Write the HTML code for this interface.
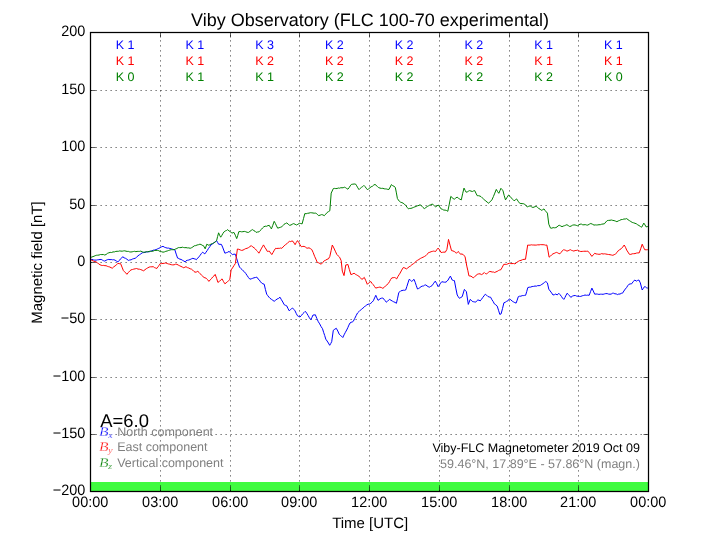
<!DOCTYPE html>
<html lang="en"><head><meta charset="utf-8"><title>Viby Observatory (FLC 100-70 experimental)</title>
<style>html,body{margin:0;padding:0;background:#fff;}body{width:720px;height:540px;overflow:hidden;}svg{display:block;will-change:transform;text-rendering:geometricPrecision;}text{font-family:"Liberation Sans",Arial,Helvetica,sans-serif;fill:#000;}.sr{font-family:"Liberation Serif","DejaVu Serif",serif;font-style:italic;}</style></head><body>
<svg width="720" height="540" viewBox="0 0 720 540">
<rect x="0" y="0" width="720" height="540" fill="#fff"/>
<rect x="90.5" y="482" width="558" height="9.5" fill="#40fb40"/>
<g stroke="#000" stroke-width="0.625" stroke-dasharray="1.25 3.75" fill="none">
<line x1="160.50" y1="491.5" x2="160.50" y2="32.5"/>
<line x1="230.50" y1="491.5" x2="230.50" y2="32.5"/>
<line x1="299.50" y1="491.5" x2="299.50" y2="32.5"/>
<line x1="369.50" y1="491.5" x2="369.50" y2="32.5"/>
<line x1="439.50" y1="491.5" x2="439.50" y2="32.5"/>
<line x1="509.50" y1="491.5" x2="509.50" y2="32.5"/>
<line x1="578.50" y1="491.5" x2="578.50" y2="32.5"/>
<line x1="90.5" y1="434.50" x2="648.5" y2="434.50"/>
<line x1="90.5" y1="377.50" x2="648.5" y2="377.50"/>
<line x1="90.5" y1="319.50" x2="648.5" y2="319.50"/>
<line x1="90.5" y1="262.50" x2="648.5" y2="262.50"/>
<line x1="90.5" y1="205.50" x2="648.5" y2="205.50"/>
<line x1="90.5" y1="147.50" x2="648.5" y2="147.50"/>
<line x1="90.5" y1="90.50" x2="648.5" y2="90.50"/>
</g>
<g stroke="#000" stroke-width="0.625" fill="none">
<line x1="90.50" y1="491.5" x2="90.50" y2="486.5"/>
<line x1="90.50" y1="32.5" x2="90.50" y2="37.5"/>
<line x1="160.50" y1="491.5" x2="160.50" y2="486.5"/>
<line x1="160.50" y1="32.5" x2="160.50" y2="37.5"/>
<line x1="230.50" y1="491.5" x2="230.50" y2="486.5"/>
<line x1="230.50" y1="32.5" x2="230.50" y2="37.5"/>
<line x1="299.50" y1="491.5" x2="299.50" y2="486.5"/>
<line x1="299.50" y1="32.5" x2="299.50" y2="37.5"/>
<line x1="369.50" y1="491.5" x2="369.50" y2="486.5"/>
<line x1="369.50" y1="32.5" x2="369.50" y2="37.5"/>
<line x1="439.50" y1="491.5" x2="439.50" y2="486.5"/>
<line x1="439.50" y1="32.5" x2="439.50" y2="37.5"/>
<line x1="509.50" y1="491.5" x2="509.50" y2="486.5"/>
<line x1="509.50" y1="32.5" x2="509.50" y2="37.5"/>
<line x1="578.50" y1="491.5" x2="578.50" y2="486.5"/>
<line x1="578.50" y1="32.5" x2="578.50" y2="37.5"/>
<line x1="648.50" y1="491.5" x2="648.50" y2="486.5"/>
<line x1="648.50" y1="32.5" x2="648.50" y2="37.5"/>
<line x1="90.5" y1="491.50" x2="95.5" y2="491.50"/>
<line x1="648.5" y1="491.50" x2="643.5" y2="491.50"/>
<line x1="90.5" y1="434.50" x2="95.5" y2="434.50"/>
<line x1="648.5" y1="434.50" x2="643.5" y2="434.50"/>
<line x1="90.5" y1="377.50" x2="95.5" y2="377.50"/>
<line x1="648.5" y1="377.50" x2="643.5" y2="377.50"/>
<line x1="90.5" y1="319.50" x2="95.5" y2="319.50"/>
<line x1="648.5" y1="319.50" x2="643.5" y2="319.50"/>
<line x1="90.5" y1="262.50" x2="95.5" y2="262.50"/>
<line x1="648.5" y1="262.50" x2="643.5" y2="262.50"/>
<line x1="90.5" y1="205.50" x2="95.5" y2="205.50"/>
<line x1="648.5" y1="205.50" x2="643.5" y2="205.50"/>
<line x1="90.5" y1="147.50" x2="95.5" y2="147.50"/>
<line x1="648.5" y1="147.50" x2="643.5" y2="147.50"/>
<line x1="90.5" y1="90.50" x2="95.5" y2="90.50"/>
<line x1="648.5" y1="90.50" x2="643.5" y2="90.50"/>
<line x1="90.5" y1="32.50" x2="95.5" y2="32.50"/>
<line x1="648.5" y1="32.50" x2="643.5" y2="32.50"/>
</g>
<g fill="none" stroke-width="1.0" stroke-linejoin="round" stroke-linecap="butt">
<path stroke="#0000ff" d="M90.5 259.4 L92.0 259.4 L93.4 259.9 L94.8 260.1 L96.3 260.1 L97.5 259.8 L98.8 259.7 L100.0 259.5 L101.2 259.4 L102.4 260.1 L103.5 260.7 L104.7 261.1 L106.1 260.3 L107.4 259.7 L108.8 259.4 L110.0 259.7 L111.2 259.5 L112.5 259.8 L113.7 259.7 L115.1 260.2 L116.5 261.1 L117.9 261.9 L119.1 260.7 L120.3 259.1 L121.5 258.2 L122.7 256.7 L124.1 257.8 L125.5 258.3 L126.9 259.2 L128.3 260.4 L129.7 260.0 L131.1 259.8 L132.4 259.1 L133.8 258.6 L135.2 258.3 L136.6 257.2 L138.0 255.8 L139.4 254.8 L140.8 253.9 L142.2 252.8 L143.6 252.6 L145.0 252.3 L146.3 252.0 L147.7 251.8 L149.1 251.8 L150.5 251.3 L151.9 250.8 L153.3 250.2 L154.7 250.0 L156.1 249.6 L157.4 248.9 L158.8 248.3 L160.2 247.7 L161.6 246.8 L163.0 246.3 L164.4 247.2 L165.8 247.7 L167.2 248.1 L168.6 248.1 L169.9 248.5 L171.3 248.8 L172.5 249.2 L173.6 249.5 L174.8 249.7 L176.2 254.1 L177.6 258.1 L178.8 258.5 L179.9 259.2 L181.1 259.4 L182.5 260.3 L183.8 261.0 L185.2 261.9 L186.0 260.8 L187.4 260.3 L188.8 260.0 L190.1 259.5 L191.5 258.8 L192.9 258.3 L194.1 258.8 L195.2 259.0 L196.4 259.7 L197.7 258.1 L198.9 256.9 L200.2 255.2 L201.4 253.5 L202.7 252.2 L203.8 253.1 L204.8 253.9 L206.0 252.2 L207.3 250.4 L208.5 248.4 L209.8 246.7 L211.0 244.9 L212.4 243.9 L213.8 243.0 L215.2 241.8 L216.6 240.7 L217.6 242.4 L218.6 244.2 L220.0 244.3 L221.4 244.4 L222.6 247.1 L223.7 250.0 L224.9 253.2 L226.3 252.7 L227.6 252.3 L229.0 251.4 L230.2 252.5 L231.3 253.5 L232.5 254.6 L233.9 254.2 L235.3 254.2 L236.7 258.5 L238.1 263.1 L239.5 267.1 L240.7 268.4 L241.9 269.4 L243.1 270.8 L244.3 271.7 L245.7 273.4 L247.1 275.5 L248.5 277.6 L249.9 279.2 L251.3 278.8 L252.7 278.3 L254.0 277.8 L255.4 277.5 L256.8 277.1 L258.0 278.9 L259.2 279.8 L260.5 281.8 L261.7 283.1 L262.9 283.8 L264.2 284.2 L265.4 289.4 L266.7 294.2 L267.8 295.7 L268.9 297.1 L270.0 298.3 L271.4 299.3 L272.8 300.3 L274.2 301.3 L275.6 300.2 L277.1 299.0 L278.6 298.4 L280.0 297.2 L281.4 299.7 L282.8 302.0 L284.2 304.7 L285.4 305.3 L286.7 305.8 L287.9 308.3 L289.2 310.8 L290.3 309.8 L291.4 308.8 L292.5 308.0 L293.8 309.4 L295.0 310.8 L296.2 313.4 L297.5 315.8 L298.8 316.5 L300.0 317.0 L301.3 315.6 L302.6 313.9 L304.0 312.6 L305.3 311.3 L306.7 313.2 L308.1 315.5 L309.4 317.8 L310.8 319.7 L311.9 317.5 L313.0 315.0 L314.1 315.0 L315.3 314.7 L316.8 318.4 L318.3 321.7 L319.7 323.9 L321.1 326.6 L322.5 328.7 L323.6 332.3 L324.7 335.5 L325.8 339.2 L327.1 341.0 L328.4 343.0 L329.7 345.3 L330.7 343.6 L331.7 341.7 L333.3 330.3 L334.8 329.2 L336.3 328.3 L337.8 331.0 L339.2 334.2 L340.4 335.4 L341.6 336.3 L342.8 337.5 L344.1 334.8 L345.4 332.3 L346.7 330.0 L347.8 327.7 L348.9 325.1 L350.0 323.0 L351.1 322.3 L352.2 322.0 L353.3 321.3 L354.7 318.5 L356.1 315.7 L357.5 313.0 L358.9 311.7 L360.3 310.2 L361.7 309.2 L362.9 308.1 L364.2 307.1 L365.4 305.9 L366.7 305.0 L368.1 304.2 L369.4 304.1 L370.8 303.3 L372.1 302.1 L373.3 300.8 L374.6 297.9 L375.8 295.3 L376.9 297.9 L378.0 300.3 L379.0 299.7 L380.0 298.8 L381.4 298.2 L382.8 298.1 L384.0 299.2 L385.1 300.6 L386.3 302.2 L387.4 301.4 L388.6 300.1 L389.7 299.4 L391.0 300.3 L392.4 301.1 L393.7 301.8 L395.1 302.4 L396.4 303.3 L397.6 298.2 L398.8 292.5 L399.8 291.8 L400.8 290.8 L402.0 290.6 L403.2 290.2 L404.5 290.3 L405.7 290.0 L406.9 286.4 L408.0 282.9 L409.2 279.3 L410.4 280.2 L411.7 281.4 L412.9 280.4 L414.0 279.3 L415.2 282.3 L416.3 285.7 L417.5 289.0 L418.7 288.5 L419.8 287.7 L421.0 286.7 L422.2 286.1 L423.4 286.0 L424.6 285.2 L425.8 284.9 L427.0 285.9 L428.1 286.6 L429.3 287.2 L430.7 286.4 L432.1 285.6 L433.7 283.2 L435.3 281.1 L436.7 283.6 L438.1 286.7 L439.3 285.2 L440.6 283.1 L441.8 281.7 L443.2 282.0 L444.6 282.2 L446.0 282.1 L447.1 281.1 L448.1 280.0 L449.2 277.9 L450.4 276.1 L452.2 280.0 L453.3 280.5 L454.4 280.6 L455.8 288.1 L457.2 295.0 L458.3 296.8 L459.4 298.3 L460.8 297.5 L462.2 296.7 L463.3 293.0 L464.4 289.4 L465.4 290.5 L466.4 291.7 L468.3 304.4 L470.2 299.4 L471.2 300.2 L472.2 301.3 L473.3 301.7 L474.5 301.9 L475.6 302.2 L476.7 300.9 L477.8 300.0 L479.0 300.2 L480.2 300.9 L481.5 299.3 L482.8 297.4 L484.0 295.9 L485.3 294.2 L486.6 295.2 L487.8 296.4 L489.2 297.0 L490.6 297.2 L491.9 299.7 L493.1 301.4 L494.4 303.9 L495.8 304.8 L497.2 306.1 L498.5 310.2 L499.8 314.4 L501.1 313.9 L502.5 308.6 L503.9 302.8 L505.2 302.3 L506.5 301.4 L507.8 300.9 L509.4 298.9 L510.8 299.8 L512.2 301.1 L513.5 301.9 L514.8 302.6 L516.1 303.1 L517.2 300.1 L518.3 296.7 L519.6 296.2 L520.9 296.2 L522.2 295.6 L523.3 295.6 L524.5 295.4 L525.6 295.3 L526.7 291.7 L527.8 287.6 L529.2 287.2 L530.7 287.1 L532.1 286.5 L533.6 286.4 L535.0 286.0 L536.4 286.2 L537.7 285.6 L539.1 285.7 L540.5 285.3 L541.8 284.4 L543.1 283.6 L544.5 282.4 L545.8 281.5 L547.4 282.9 L548.8 289.2 L550.2 291.0 L551.6 292.9 L553.0 295.0 L554.4 294.7 L555.8 294.0 L557.2 295.0 L558.8 293.3 L560.0 294.6 L561.3 296.3 L562.5 298.1 L563.8 299.4 L564.9 297.6 L566.1 295.1 L567.2 293.2 L568.4 294.6 L569.6 295.8 L570.8 297.4 L572.3 296.2 L573.9 295.6 L575.3 295.5 L576.7 296.1 L578.0 296.2 L579.4 296.4 L580.8 296.4 L582.2 295.8 L583.6 295.5 L585.0 295.0 L586.4 295.3 L587.8 295.1 L589.2 295.3 L590.5 291.7 L591.9 288.1 L593.3 291.0 L594.7 294.2 L596.1 294.0 L597.5 294.1 L598.9 294.4 L600.3 294.2 L601.7 294.2 L603.1 294.3 L604.5 293.9 L605.8 293.6 L607.2 293.6 L608.6 294.1 L610.0 294.2 L611.2 294.1 L612.3 293.3 L613.5 293.2 L614.9 293.8 L616.2 293.9 L617.6 294.6 L618.8 294.0 L620.0 294.1 L621.3 293.3 L622.5 293.2 L623.9 291.0 L625.3 289.0 L626.5 287.7 L627.6 285.9 L628.8 284.4 L630.1 283.9 L631.5 283.9 L633.1 281.8 L634.7 280.0 L636.4 281.1 L637.6 280.4 L638.9 280.0 L640.3 282.8 L642.2 290.0 L643.3 288.5 L644.4 286.7 L645.5 286.9 L646.7 287.9 L647.8 288.1"/>
<path stroke="#ff0000" d="M90.5 259.4 L92.0 260.4 L93.5 261.1 L95.0 261.5 L96.2 262.0 L97.5 262.8 L98.7 264.0 L100.0 264.7 L101.2 265.3 L102.4 265.5 L103.7 265.4 L104.9 265.7 L106.1 265.7 L107.3 266.3 L108.6 266.7 L109.8 267.0 L111.1 267.7 L112.3 268.2 L113.7 266.9 L115.1 265.9 L116.5 264.8 L117.9 263.3 L119.2 263.7 L120.6 263.6 L122.0 267.1 L123.4 270.6 L124.6 271.8 L125.7 272.9 L126.9 274.3 L128.3 272.6 L129.6 271.1 L131.0 269.9 L132.4 269.5 L133.8 269.1 L135.2 268.8 L136.6 268.5 L138.0 269.1 L139.4 269.2 L140.8 269.6 L142.2 270.2 L143.6 270.8 L145.0 269.7 L146.3 268.7 L147.7 267.9 L149.1 267.1 L150.5 266.8 L151.9 266.8 L153.3 266.7 L154.5 267.6 L155.6 268.0 L156.8 268.5 L157.9 266.7 L159.1 265.5 L160.2 263.6 L161.6 263.6 L163.0 263.4 L164.4 263.3 L165.8 262.9 L167.2 263.5 L168.6 264.0 L169.9 264.2 L171.3 264.7 L172.7 264.9 L174.1 264.8 L175.5 264.2 L176.9 264.3 L178.3 265.1 L179.7 265.8 L181.0 266.4 L182.4 267.1 L183.8 267.8 L184.9 267.2 L186.0 266.7 L187.4 267.6 L188.8 268.0 L190.2 268.8 L191.6 269.2 L192.7 270.1 L193.9 271.4 L195.0 272.2 L196.4 272.0 L197.8 271.3 L199.1 272.5 L200.3 273.8 L201.6 275.3 L202.8 276.4 L204.1 277.5 L205.1 277.8 L206.1 278.2 L207.5 279.6 L208.9 281.4 L210.2 279.9 L211.4 278.7 L212.7 277.0 L213.9 276.0 L215.2 274.4 L216.6 278.3 L217.9 282.4 L219.3 281.5 L220.7 280.0 L222.1 278.9 L223.5 281.6 L224.9 283.8 L226.1 282.9 L227.4 281.7 L228.6 280.7 L229.8 279.6 L231.1 269.9 L232.5 267.9 L233.9 265.7 L235.3 263.6 L236.4 256.2 L237.4 249.0 L238.8 249.3 L240.2 249.9 L241.6 250.4 L243.0 250.1 L244.3 249.4 L245.7 248.6 L247.1 248.3 L248.5 247.6 L249.9 246.6 L251.3 245.6 L252.7 247.0 L254.0 247.7 L255.4 249.0 L256.6 250.5 L257.7 251.6 L258.9 253.2 L260.0 251.2 L261.2 248.9 L262.4 246.8 L263.5 244.9 L264.8 247.3 L266.0 249.0 L267.3 251.4 L268.3 251.3 L269.3 251.1 L270.6 253.0 L271.8 254.6 L273.1 252.4 L274.3 250.2 L275.6 248.3 L276.8 248.5 L278.1 248.3 L279.3 248.4 L280.6 248.0 L281.8 248.3 L282.9 247.1 L284.0 246.1 L285.4 244.7 L286.8 243.8 L288.2 242.3 L289.6 241.3 L290.7 241.6 L291.9 241.0 L293.0 241.3 L294.1 243.1 L295.1 244.7 L296.3 242.4 L297.5 240.6 L298.8 242.5 L300.1 244.9 L301.4 246.8 L302.8 246.4 L304.1 246.4 L305.5 247.1 L306.9 248.2 L307.9 248.1 L309.0 247.8 L310.4 248.6 L311.8 249.6 L313.2 252.6 L314.6 256.3 L315.9 259.1 L317.3 262.5 L318.6 262.8 L319.9 263.5 L321.2 264.2 L322.8 262.5 L324.3 260.7 L325.7 260.2 L327.0 259.3 L328.4 258.9 L329.8 256.5 L331.1 250.7 L332.3 245.0 L333.8 247.9 L335.3 251.2 L336.8 254.4 L338.2 255.9 L339.6 257.2 L341.2 260.7 L342.3 271.1 L344.0 275.6 L345.8 264.9 L346.9 264.8 L347.9 264.4 L349.4 269.7 L350.9 274.6 L352.5 274.0 L354.1 273.2 L355.3 274.2 L356.6 274.9 L357.8 275.6 L359.0 276.4 L360.4 277.7 L361.8 279.4 L363.1 278.5 L364.3 277.4 L365.8 280.7 L367.3 284.3 L368.5 283.1 L369.6 282.4 L370.8 281.5 L372.0 283.4 L373.2 284.6 L374.5 286.5 L375.7 288.1 L377.1 287.7 L378.4 287.4 L379.8 287.1 L381.3 287.5 L382.8 288.3 L384.2 287.4 L385.6 285.8 L386.9 284.8 L388.3 283.5 L389.5 281.6 L390.6 279.5 L391.8 277.9 L393.2 277.7 L394.6 277.5 L395.6 278.0 L396.7 278.9 L397.8 276.7 L399.0 274.8 L400.1 273.1 L401.7 270.1 L403.3 267.5 L404.9 268.0 L406.4 268.9 L407.8 267.9 L409.1 266.8 L410.5 266.0 L411.9 264.7 L413.3 263.8 L414.7 262.7 L416.1 261.3 L417.5 260.3 L418.9 259.5 L420.3 258.5 L421.7 257.8 L423.1 257.2 L424.4 256.5 L425.8 255.7 L427.2 254.3 L428.6 252.5 L429.8 252.3 L431.1 251.7 L432.3 251.4 L433.5 251.1 L434.6 251.3 L435.6 251.5 L436.9 249.5 L438.1 248.1 L439.6 250.0 L441.1 252.5 L442.5 252.3 L443.9 252.1 L445.3 252.2 L446.9 249.4 L448.5 239.4 L450.0 245.1 L451.5 250.6 L452.9 250.9 L454.3 251.5 L455.4 252.2 L456.4 253.3 L458.1 251.5 L459.4 252.7 L460.6 254.3 L462.0 253.9 L463.5 255.0 L465.0 256.4 L466.8 266.1 L467.9 270.8 L468.9 275.8 L469.9 276.0 L471.0 276.1 L472.1 277.0 L473.3 277.9 L474.6 276.6 L475.9 275.6 L477.2 274.4 L478.6 273.9 L480.0 273.8 L481.5 274.6 L482.9 273.8 L484.3 272.5 L485.3 273.5 L486.3 273.9 L487.5 273.2 L488.6 272.2 L489.8 271.4 L491.0 271.7 L492.2 272.0 L493.5 272.0 L494.7 272.5 L495.9 271.9 L497.2 271.4 L498.4 270.6 L499.7 270.0 L500.9 269.7 L502.3 267.2 L503.7 264.4 L505.1 264.3 L506.5 264.4 L507.9 263.8 L509.3 263.2 L510.7 263.6 L512.0 263.6 L513.4 263.5 L514.8 263.8 L516.0 263.3 L517.1 262.1 L518.3 261.4 L519.7 260.6 L521.0 260.4 L522.4 259.7 L524.0 259.3 L525.5 259.3 L526.6 252.0 L527.7 245.0 L528.9 245.2 L530.2 245.1 L531.4 244.8 L532.6 245.0 L533.8 245.0 L535.1 245.1 L536.3 245.1 L537.7 244.8 L539.1 244.9 L540.5 244.6 L541.9 244.7 L543.1 244.7 L544.3 244.8 L545.6 245.2 L546.8 245.0 L548.0 250.9 L549.1 257.2 L550.4 256.2 L551.7 254.8 L553.0 253.8 L554.2 253.4 L555.3 252.8 L556.5 252.4 L557.6 252.8 L558.8 253.5 L559.9 253.8 L561.1 252.4 L562.3 250.9 L563.5 249.7 L564.6 250.0 L565.8 250.4 L566.9 251.1 L568.1 250.8 L569.2 250.2 L570.4 249.7 L571.6 250.4 L572.7 250.7 L573.9 251.1 L575.1 250.5 L576.2 250.5 L577.4 250.1 L578.5 250.7 L579.7 251.2 L580.8 251.5 L582.2 251.4 L583.6 251.3 L585.0 251.2 L586.4 251.3 L587.8 251.1 L588.8 252.2 L589.9 253.6 L590.9 255.0 L591.9 256.4 L593.3 254.8 L594.7 253.3 L596.1 253.9 L597.5 254.1 L598.9 254.3 L600.3 254.2 L601.7 253.6 L603.1 254.0 L604.5 253.8 L605.8 254.0 L607.2 254.3 L608.6 254.5 L610.0 254.7 L611.4 255.0 L612.8 255.3 L614.2 254.7 L615.6 253.9 L617.0 252.5 L618.3 250.6 L619.7 249.7 L621.1 248.8 L622.7 247.1 L624.2 245.0 L625.5 247.3 L626.7 250.1 L628.0 252.1 L629.4 254.3 L630.8 254.4 L632.2 253.8 L633.6 253.7 L635.0 253.6 L636.4 253.1 L637.8 252.9 L639.2 252.9 L640.7 248.8 L642.2 244.2 L643.5 247.2 L644.7 249.7 L646.2 249.8 L647.8 249.7"/>
<path stroke="#008000" d="M90.5 257.6 L91.8 257.0 L93.0 256.6 L94.1 256.2 L95.2 255.7 L96.3 255.3 L97.7 255.2 L99.1 255.0 L100.5 254.5 L101.9 254.6 L103.3 254.5 L104.7 255.0 L106.1 254.5 L107.4 253.4 L108.8 252.8 L110.2 252.4 L111.6 252.5 L113.0 251.9 L114.4 251.9 L115.8 251.4 L117.1 251.3 L118.4 251.3 L119.7 250.9 L120.9 251.1 L122.2 251.2 L123.5 250.9 L124.8 250.8 L126.0 251.2 L127.2 251.4 L128.5 251.4 L129.7 251.9 L130.9 252.0 L132.2 251.8 L133.4 251.5 L134.6 251.3 L135.9 251.7 L137.1 251.4 L138.3 251.4 L139.6 251.4 L140.8 251.1 L142.2 251.8 L143.6 252.2 L145.0 252.2 L146.3 251.7 L147.7 251.8 L149.1 251.4 L150.5 251.2 L151.9 251.3 L153.2 251.1 L154.6 250.5 L156.0 250.4 L157.4 250.4 L158.8 250.7 L160.2 251.6 L161.6 251.7 L163.0 252.2 L164.4 251.9 L165.8 251.3 L167.2 251.0 L168.5 250.5 L169.9 250.0 L171.3 249.7 L172.7 249.7 L174.1 249.7 L175.5 249.0 L176.9 248.5 L178.3 247.6 L179.7 247.6 L181.0 247.6 L182.4 247.2 L183.6 247.5 L184.8 247.7 L186.0 247.6 L187.4 247.9 L188.8 247.9 L190.2 248.3 L191.6 247.7 L192.9 246.9 L194.3 245.8 L195.7 245.6 L197.1 245.0 L198.5 244.7 L199.9 244.2 L201.1 244.5 L202.2 245.3 L203.4 245.6 L205.2 248.8 L206.8 244.2 L207.9 244.8 L208.9 245.3 L210.1 244.6 L211.4 243.8 L212.6 243.6 L213.8 242.8 L215.2 242.0 L216.6 240.7 L217.6 236.5 L218.6 232.8 L219.6 235.2 L220.7 237.2 L221.9 235.3 L223.0 233.3 L224.2 231.7 L225.4 230.9 L226.5 230.5 L227.7 229.6 L229.1 231.0 L230.4 231.7 L231.8 233.1 L232.9 232.8 L233.9 232.4 L235.3 235.2 L236.7 238.6 L237.8 235.3 L238.8 231.7 L240.2 231.5 L241.6 231.8 L242.9 231.7 L244.3 231.4 L245.7 231.7 L247.1 232.3 L248.5 232.4 L249.9 231.4 L251.3 230.3 L252.7 229.6 L253.8 230.6 L255.0 231.2 L256.1 232.4 L257.5 232.0 L258.9 231.9 L260.1 230.6 L261.4 229.4 L262.6 227.9 L263.8 226.8 L265.2 226.2 L266.6 226.3 L267.9 225.6 L269.3 225.4 L270.4 227.4 L271.4 228.9 L272.8 225.3 L274.2 221.3 L275.4 223.5 L276.5 225.9 L277.7 228.2 L279.1 227.7 L280.4 227.3 L281.8 226.8 L282.9 225.6 L284.0 224.3 L285.4 223.6 L286.8 222.9 L288.2 224.2 L289.6 225.3 L291.0 225.0 L292.3 224.2 L293.7 223.6 L295.1 224.3 L296.5 225.0 L297.9 224.3 L299.3 223.3 L300.7 223.5 L302.1 223.9 L303.5 218.6 L304.8 213.6 L306.2 213.7 L307.6 213.3 L309.0 213.1 L310.4 212.7 L311.8 212.8 L313.0 213.0 L314.2 213.2 L315.4 213.1 L316.6 213.6 L317.6 214.7 L318.7 215.6 L320.1 215.2 L321.5 214.6 L322.9 214.9 L324.3 215.7 L325.7 214.2 L327.1 212.5 L328.5 211.6 L329.8 210.8 L331.2 193.1 L332.2 191.0 L333.3 188.6 L334.6 188.4 L335.8 188.6 L337.1 188.5 L338.3 188.0 L339.6 188.2 L340.8 187.7 L342.0 187.8 L343.2 187.7 L344.4 187.2 L345.6 187.7 L346.7 188.5 L347.9 189.2 L349.1 187.7 L350.2 185.9 L351.4 184.4 L352.8 184.2 L354.1 184.0 L355.5 184.0 L356.7 185.8 L357.8 187.8 L359.0 189.6 L360.2 188.4 L361.4 187.4 L362.7 186.6 L363.9 185.4 L365.0 186.5 L366.2 188.2 L367.3 189.6 L368.6 188.9 L369.9 187.8 L371.1 186.8 L372.4 186.3 L373.7 185.1 L375.0 184.4 L376.1 185.3 L377.3 186.4 L378.4 187.5 L380.0 188.1 L381.4 188.4 L382.8 188.3 L384.2 188.8 L385.4 188.9 L386.6 189.0 L387.8 189.4 L389.0 189.4 L390.2 187.0 L391.4 184.6 L392.7 185.7 L394.0 186.3 L395.3 187.4 L396.4 192.9 L397.4 198.5 L398.4 200.0 L399.4 201.3 L400.6 202.2 L401.9 202.6 L403.1 203.2 L404.3 204.0 L405.7 205.4 L407.1 207.3 L408.5 208.9 L409.7 208.4 L410.9 208.4 L412.1 208.0 L413.3 207.5 L414.9 206.8 L416.4 206.4 L417.7 205.7 L419.0 205.4 L420.3 204.7 L421.7 206.1 L423.0 207.5 L424.4 208.6 L425.8 207.6 L427.2 206.5 L428.6 205.8 L429.8 205.1 L430.9 204.8 L432.1 204.0 L433.3 204.8 L434.4 205.8 L435.6 206.8 L437.0 205.9 L438.3 205.0 L439.7 206.9 L441.1 208.9 L442.4 209.3 L443.8 210.1 L445.1 210.1 L446.5 210.5 L447.8 211.3 L449.3 204.1 L450.8 196.4 L452.0 197.5 L453.1 198.5 L454.3 199.2 L455.7 198.1 L457.1 197.1 L458.5 198.3 L459.9 199.2 L461.3 199.9 L462.6 193.8 L464.0 188.1 L465.1 190.3 L466.1 192.2 L467.3 191.9 L468.4 191.2 L469.6 190.6 L471.0 191.1 L472.4 191.5 L473.5 190.9 L474.7 190.6 L475.9 193.1 L477.2 195.7 L478.6 195.7 L480.0 196.1 L481.1 196.7 L482.2 197.8 L483.4 198.9 L484.7 199.9 L485.9 201.3 L487.2 201.9 L488.4 203.3 L489.6 202.4 L490.7 201.1 L491.9 199.9 L493.4 196.6 L494.8 193.1 L496.3 189.4 L497.6 191.6 L498.8 193.3 L499.9 190.8 L500.9 188.3 L501.9 189.3 L503.0 190.8 L504.2 195.5 L505.5 199.9 L507.1 197.3 L508.6 195.0 L510.0 196.3 L511.4 198.0 L512.7 199.4 L514.1 200.8 L515.4 199.8 L516.6 198.9 L518.2 201.3 L519.7 203.3 L520.9 203.5 L522.1 203.6 L523.3 203.7 L524.5 204.0 L525.9 205.6 L527.3 206.8 L528.7 206.3 L530.1 205.8 L531.5 206.8 L532.9 207.5 L534.0 207.1 L535.2 206.6 L536.3 206.4 L537.5 207.4 L538.8 208.5 L540.0 209.1 L541.2 210.3 L542.6 209.8 L544.0 208.9 L545.1 210.5 L546.3 211.9 L547.4 213.1 L548.8 224.2 L550.5 228.1 L551.8 228.2 L553.1 227.6 L554.5 227.8 L555.8 227.6 L557.0 227.0 L558.1 225.8 L559.3 225.3 L560.6 225.9 L562.0 226.7 L563.2 226.1 L564.5 225.7 L565.7 225.2 L566.9 224.7 L568.3 225.6 L569.7 226.5 L571.1 226.1 L572.5 225.2 L573.9 224.9 L575.1 225.0 L576.2 225.3 L577.4 225.8 L578.8 224.8 L580.1 224.2 L581.4 224.1 L582.7 224.8 L584.0 224.8 L585.2 224.6 L586.5 225.0 L587.8 225.1 L589.3 224.2 L590.8 223.5 L592.4 224.2 L594.0 225.1 L595.3 224.9 L596.5 225.0 L597.8 224.9 L599.0 224.7 L600.3 224.7 L601.7 224.2 L603.0 224.0 L604.4 223.8 L605.8 222.0 L607.2 220.6 L608.6 220.4 L610.0 220.3 L611.4 220.0 L612.8 220.4 L614.1 220.6 L615.5 221.1 L616.9 221.7 L618.3 220.9 L619.7 220.4 L621.1 219.6 L622.5 219.5 L623.9 219.0 L625.3 219.0 L626.7 218.6 L628.0 219.7 L629.4 220.6 L630.8 221.5 L632.2 222.4 L633.6 222.8 L635.0 223.3 L636.4 223.8 L637.7 224.8 L639.0 225.5 L640.4 226.5 L641.7 227.2 L642.8 225.1 L643.8 223.1 L645.0 224.9 L646.1 226.9 L647.8 226.5"/>
</g>
<rect x="90.5" y="32.5" width="558.0" height="459.0" fill="none" stroke="#000" stroke-width="1.25"/>
<text x="370" y="25.8" font-size="18" text-anchor="middle">Viby Observatory (FLC 100-70 experimental)</text>
<text transform="translate(85.4 494.9) scale(0.965 1)" font-size="15" text-anchor="end">−200</text>
<text transform="translate(85.4 437.9) scale(0.965 1)" font-size="15" text-anchor="end">−150</text>
<text transform="translate(85.4 380.9) scale(0.965 1)" font-size="15" text-anchor="end">−100</text>
<text transform="translate(85.4 322.9) scale(0.965 1)" font-size="15" text-anchor="end">−50</text>
<text transform="translate(85.4 265.9) scale(0.965 1)" font-size="15" text-anchor="end">0</text>
<text transform="translate(85.4 208.9) scale(0.965 1)" font-size="15" text-anchor="end">50</text>
<text transform="translate(85.4 150.9) scale(0.965 1)" font-size="15" text-anchor="end">100</text>
<text transform="translate(85.4 93.9) scale(0.965 1)" font-size="15" text-anchor="end">150</text>
<text transform="translate(85.4 35.9) scale(0.965 1)" font-size="15" text-anchor="end">200</text>
<text transform="translate(90.2 506.6) scale(0.965 1)" font-size="15" text-anchor="middle">00:00</text>
<text transform="translate(160.2 506.6) scale(0.965 1)" font-size="15" text-anchor="middle">03:00</text>
<text transform="translate(230.2 506.6) scale(0.965 1)" font-size="15" text-anchor="middle">06:00</text>
<text transform="translate(299.2 506.6) scale(0.965 1)" font-size="15" text-anchor="middle">09:00</text>
<text transform="translate(369.2 506.6) scale(0.965 1)" font-size="15" text-anchor="middle">12:00</text>
<text transform="translate(439.2 506.6) scale(0.965 1)" font-size="15" text-anchor="middle">15:00</text>
<text transform="translate(509.2 506.6) scale(0.965 1)" font-size="15" text-anchor="middle">18:00</text>
<text transform="translate(578.2 506.6) scale(0.965 1)" font-size="15" text-anchor="middle">21:00</text>
<text transform="translate(648.2 506.6) scale(0.965 1)" font-size="15" text-anchor="middle">00:00</text>
<text x="370.2" y="527.8" font-size="15" text-anchor="middle">Time [UTC]</text>
<text transform="translate(41.6 262.5) rotate(-90)" font-size="15" text-anchor="middle">Magnetic field [nT]</text>
<text x="125.1" y="49" font-size="12.5" text-anchor="middle" style="fill:#0000ff">K 1</text>
<text x="125.1" y="65" font-size="12.5" text-anchor="middle" style="fill:#ff0000">K 1</text>
<text x="125.1" y="81" font-size="12.5" text-anchor="middle" style="fill:#008000">K 0</text>
<text x="194.8" y="49" font-size="12.5" text-anchor="middle" style="fill:#0000ff">K 1</text>
<text x="194.8" y="65" font-size="12.5" text-anchor="middle" style="fill:#ff0000">K 1</text>
<text x="194.8" y="81" font-size="12.5" text-anchor="middle" style="fill:#008000">K 1</text>
<text x="264.6" y="49" font-size="12.5" text-anchor="middle" style="fill:#0000ff">K 3</text>
<text x="264.6" y="65" font-size="12.5" text-anchor="middle" style="fill:#ff0000">K 2</text>
<text x="264.6" y="81" font-size="12.5" text-anchor="middle" style="fill:#008000">K 1</text>
<text x="334.3" y="49" font-size="12.5" text-anchor="middle" style="fill:#0000ff">K 2</text>
<text x="334.3" y="65" font-size="12.5" text-anchor="middle" style="fill:#ff0000">K 2</text>
<text x="334.3" y="81" font-size="12.5" text-anchor="middle" style="fill:#008000">K 2</text>
<text x="404.1" y="49" font-size="12.5" text-anchor="middle" style="fill:#0000ff">K 2</text>
<text x="404.1" y="65" font-size="12.5" text-anchor="middle" style="fill:#ff0000">K 2</text>
<text x="404.1" y="81" font-size="12.5" text-anchor="middle" style="fill:#008000">K 2</text>
<text x="473.8" y="49" font-size="12.5" text-anchor="middle" style="fill:#0000ff">K 2</text>
<text x="473.8" y="65" font-size="12.5" text-anchor="middle" style="fill:#ff0000">K 2</text>
<text x="473.8" y="81" font-size="12.5" text-anchor="middle" style="fill:#008000">K 2</text>
<text x="543.6" y="49" font-size="12.5" text-anchor="middle" style="fill:#0000ff">K 1</text>
<text x="543.6" y="65" font-size="12.5" text-anchor="middle" style="fill:#ff0000">K 1</text>
<text x="543.6" y="81" font-size="12.5" text-anchor="middle" style="fill:#008000">K 2</text>
<text x="613.3" y="49" font-size="12.5" text-anchor="middle" style="fill:#0000ff">K 1</text>
<text x="613.3" y="65" font-size="12.5" text-anchor="middle" style="fill:#ff0000">K 1</text>
<text x="613.3" y="81" font-size="12.5" text-anchor="middle" style="fill:#008000">K 0</text>
<text x="100.3" y="426.5" font-size="18.4">A=6.0</text>
<text transform="translate(99.1 435.8) scale(1.18 1)" font-size="13.2" class="sr" style="fill:#0000ff;stroke:#fff;stroke-width:0.3px">B</text>
<text transform="translate(108.3 437.7) scale(1.1 1)" font-size="8.75" class="sr" style="fill:#0000ff;stroke:#fff;stroke-width:0.2px">x</text>
<text x="117.2" y="435.8" font-size="12.5" style="fill:#808080">North component</text>
<text transform="translate(99.1 451.4) scale(1.18 1)" font-size="13.2" class="sr" style="fill:#ff0000;stroke:#fff;stroke-width:0.3px">B</text>
<text transform="translate(108.3 453.3) scale(1.1 1)" font-size="8.75" class="sr" style="fill:#ff0000;stroke:#fff;stroke-width:0.2px">y</text>
<text x="117.2" y="451.4" font-size="12.5" style="fill:#808080">East component</text>
<text transform="translate(99.1 467.4) scale(1.18 1)" font-size="13.2" class="sr" style="fill:#008000;stroke:#fff;stroke-width:0.3px">B</text>
<text transform="translate(108.3 469.3) scale(1.1 1)" font-size="8.75" class="sr" style="fill:#008000;stroke:#fff;stroke-width:0.2px">z</text>
<text x="117.2" y="467.4" font-size="12.5" style="fill:#808080">Vertical component</text>
<text x="639.9" y="452.2" font-size="12.5" text-anchor="end">Viby-FLC Magnetometer 2019 Oct 09</text>
<text x="639.9" y="467.6" font-size="12.5" text-anchor="end" style="fill:#808080">59.46°N, 17.89°E - 57.86°N (magn.)</text>
</svg></body></html>
